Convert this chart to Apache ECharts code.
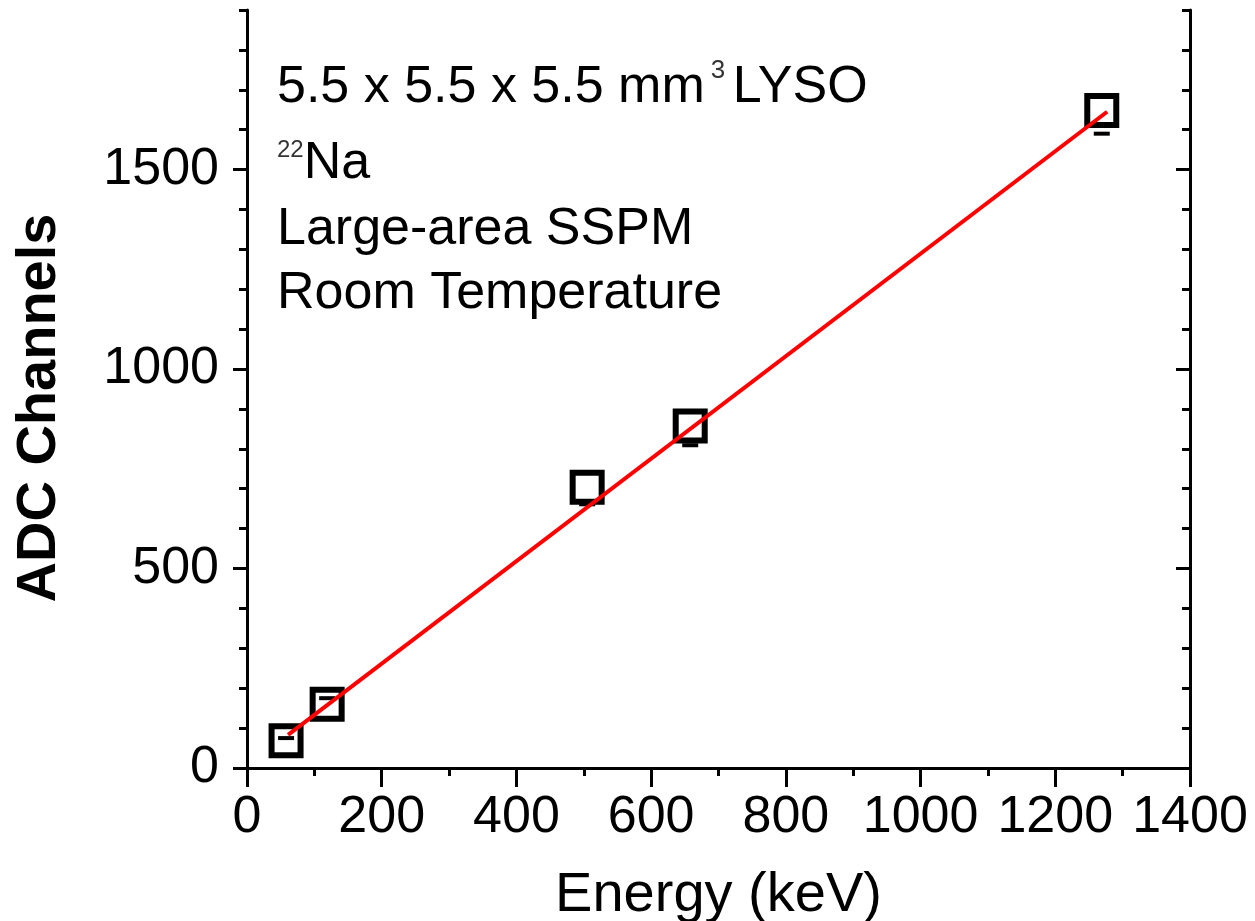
<!DOCTYPE html>
<html>
<head>
<meta charset="utf-8">
<script src="https://cdn.jsdelivr.net/npm/echarts@6/dist/echarts.min.js"></script>
<style>
  html, body { margin: 0; padding: 0; background: #fff; }
  #chart { width: 1255px; height: 921px; }
</style>
</head>
<body>
<div id="chart"></div>
<script>
// measured points (keV, ADC channel)
const energies = [58, 119, 505, 658, 1269];
const channels = [68, 160, 704, 857, 1648];
// error bar cap positions
const capValues = [75, 175, 661, 809, 1590];
// linear fit end points
const fitX = [61, 1277];
const fitY = [83, 1645];

const yMajorTicks = [0, 500, 1000, 1500];

const font = '"Liberation Sans", Arial, sans-serif';
const black = '#000';

const chart = echarts.init(document.getElementById('chart'), undefined, { renderer: 'canvas' });

// width of the text in front of the superscript 3
const measure = document.createElement('canvas').getContext('2d');
measure.font = '52px ' + font;
const head = '5.5 x 5.5 x 5.5 mm';
const supX = 277 + measure.measureText(head).width + 6;

const frameLine = { show: true, lineStyle: { color: black, width: 3 } };
const plain = (v) => String(v);

const option = {
  backgroundColor: '#fff',
  animation: false,
  grid: { left: 247, right: 65, top: 10, bottom: 153, containLabel: false, outerBoundsMode: 'none' },
  xAxis: [
    {
      type: 'value', position: 'bottom', min: 0, max: 1400, interval: 200,
      axisLine: frameLine,
      axisTick: { show: true, inside: false, length: 19, lineStyle: { color: black, width: 3 } },
      minorTick: { show: true, splitNumber: 2, length: 8, lineStyle: { color: black, width: 3 } },
      axisLabel: { color: black, fontFamily: font, fontSize: 52, margin: 24, formatter: plain },
      splitLine: { show: false },
      name: 'Energy (keV)', nameLocation: 'middle', nameGap: 100,
      nameTextStyle: { color: black, fontFamily: font, fontSize: 56 },
    },
    {
      type: 'value', position: 'top', min: 0, max: 1400, interval: 200,
      axisLine: frameLine,
      axisTick: { show: true, inside: true, length: 10, lineStyle: { color: black, width: 3 } },
      minorTick: { show: true, splitNumber: 2, length: 5, lineStyle: { color: black, width: 3 } },
      axisLabel: { show: false },
      splitLine: { show: false },
    },
  ],
  yAxis: [
    {
      type: 'value', position: 'left', min: 0, max: 1900, interval: 100,
      axisLine: frameLine,
      axisTick: { show: true, inside: false, length: 14, customValues: yMajorTicks, lineStyle: { color: black, width: 3 } },
      axisLabel: { color: black, fontFamily: font, fontSize: 52, margin: 28, customValues: yMajorTicks, formatter: plain },
      splitLine: { show: false },
    },
    {
      type: 'value', position: 'left', min: 0, max: 1900, interval: 100,
      axisLine: { show: false },
      axisTick: { show: true, inside: false, length: 8, lineStyle: { color: black, width: 3 } },
      axisLabel: { show: false },
      splitLine: { show: false },
    },
    {
      type: 'value', position: 'right', min: 0, max: 1900, interval: 100,
      axisLine: frameLine,
      axisTick: { show: true, inside: true, length: 14, customValues: yMajorTicks, lineStyle: { color: black, width: 3 } },
      axisLabel: { show: false },
      splitLine: { show: false },
    },
    {
      type: 'value', position: 'right', min: 0, max: 1900, interval: 100,
      axisLine: { show: false },
      axisTick: { show: true, inside: true, length: 8, lineStyle: { color: black, width: 3 } },
      axisLabel: { show: false },
      splitLine: { show: false },
    },
  ],
  graphic: [
    {
      type: 'text', x: 40, y: 408, rotation: Math.PI / 2,
      style: {
        text: 'ADC Channels', fill: black, font: 'bold 56px ' + font,
        align: 'center', verticalAlign: 'middle',
      },
    },
    {
      type: 'text', x: 277, y: 88,
      style: { text: head, fill: black, font: '52px ' + font, verticalAlign: 'middle' },
    },
    {
      type: 'text', x: supX, y: 58,
      style: { text: '3', fill: '#333', font: '26px ' + font, verticalAlign: 'top' },
    },
    {
      type: 'text', x: supX + 22, y: 88,
      style: { text: 'LYSO', fill: black, font: '52px ' + font, verticalAlign: 'middle' },
    },
    {
      type: 'text', x: 277, y: 164,
      style: {
        text: '{s|22}{a|Na}',
        verticalAlign: 'middle', fill: black,
        rich: {
          a: { fontFamily: font, fontSize: 52, fill: black },
          s: { fontFamily: font, fontSize: 24, fill: '#333', verticalAlign: 'top' },
        },
      },
    },
    {
      type: 'text', x: 277, y: 230,
      style: { text: 'Large-area SSPM', fill: black, font: '52px ' + font, verticalAlign: 'middle' },
    },
    {
      type: 'text', x: 277, y: 294,
      style: { text: 'Room Temperature', fill: black, font: '52px ' + font, verticalAlign: 'middle' },
    },
  ],
  series: [
    {
      name: 'Data',
      type: 'scatter',
      xAxisIndex: 0, yAxisIndex: 0,
      data: energies.map((e, i) => [e, channels[i]]),
      symbol: 'rect',
      symbolSize: 29,
      itemStyle: { color: 'rgba(0,0,0,0)', borderColor: black, borderWidth: 6, opacity: 1 },
      z: 2,
    },
    {
      name: 'Error',
      type: 'custom',
      xAxisIndex: 0, yAxisIndex: 0,
      data: energies.map((e, i) => [e, capValues[i]]),
      renderItem: (params, api) => {
        const p = api.coord([api.value(0), api.value(1)]);
        return {
          type: 'line',
          shape: { x1: p[0] - 8, y1: p[1], x2: p[0] + 8, y2: p[1] },
          style: { stroke: black, lineWidth: 4 },
        };
      },
      z: 3,
    },
    {
      name: 'Fit',
      type: 'line',
      xAxisIndex: 0, yAxisIndex: 0,
      data: fitX.map((x, i) => [x, fitY[i]]),
      symbol: 'none',
      lineStyle: { color: '#ff0000', width: 4 },
      z: 4,
    },
  ],
};

chart.setOption(option);
</script>
</body>
</html>
